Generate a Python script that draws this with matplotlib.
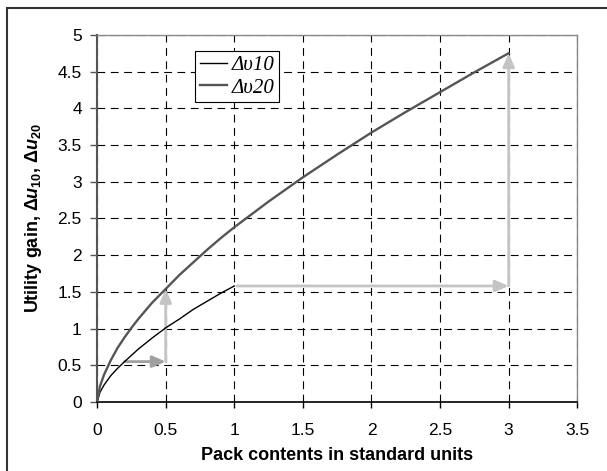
import matplotlib
matplotlib.use('Agg')
import matplotlib.pyplot as plt
from matplotlib.patches import Rectangle

# Values
x10 = [0, 0.02, 0.05, 0.1, 0.15, 0.2, 0.3, 0.4, 0.5, 0.6, 0.7, 0.8, 0.9, 1.0]
du10 = [0, 0.13, 0.23, 0.36, 0.46, 0.55, 0.72, 0.87, 1.01, 1.13, 1.26, 1.37, 1.48, 1.58]

x20 = [0, 0.02, 0.05, 0.1, 0.15, 0.2, 0.25, 0.3, 0.4, 0.5, 0.6, 0.7, 0.8, 0.9, 1.0,
       1.25, 1.5, 1.75, 2.0, 2.25, 2.5, 2.75, 3.0]
du20 = [0, 0.21, 0.37, 0.57, 0.74, 0.88, 1.01, 1.13, 1.35, 1.54, 1.73, 1.90, 2.07, 2.23, 2.38,
        2.73, 3.06, 3.37, 3.67, 3.95, 4.22, 4.49, 4.75]

labels = ['\u0394\u03c510', '\u0394\u03c520']
xticks = [0, 0.5, 1, 1.5, 2, 2.5, 3, 3.5]
yticks = [0, 0.5, 1, 1.5, 2, 2.5, 3, 3.5, 4, 4.5, 5]

plt.rcParams['font.family'] = ['Liberation Sans', 'DejaVu Sans']
plt.rcParams['mathtext.fontset'] = 'custom'
plt.rcParams['mathtext.rm'] = 'Liberation Sans:bold'
plt.rcParams['mathtext.bf'] = 'Liberation Sans:bold'
plt.rcParams['mathtext.it'] = 'Liberation Sans:italic:bold'

fig = plt.figure(figsize=(6.07, 4.71), dpi=100)
ax = fig.add_axes([0.160, 0.1465, 0.791, 0.7795])

# outer frame (only left and top edges show in the picture)
fig.patches.append(Rectangle((7 / 607, -0.1), 1.2, 1 - 8 / 471 + 0.1,
                             transform=fig.transFigure, fill=False,
                             edgecolor='#333333', linewidth=1.5))

ax.plot(x10, du10, color='black', linewidth=1.0, label=labels[0], zorder=4)
ax.plot(x20, du20, color='#555555', linewidth=1.7, label=labels[1], zorder=4)

# arrows: from the end points of the curves
def arrow(x0, y0, x1, y1, col):
    ax.annotate('', xy=(x1, y1), xytext=(x0, y0),
                arrowprops=dict(arrowstyle='-|>,head_length=0.8,head_width=0.35',
                                color=col, linewidth=2.0, shrinkA=0, shrinkB=0),
                zorder=3)

i02 = x10.index(0.2)
i05 = x20.index(0.5)
arrow(x10[i02], du10[i02], 0.5, du10[i02], '#a0a0a0')
arrow(0.5, du10[i02], 0.5, du20[i05], '#c4c4c4')
arrow(x10[-1] + 0.02, du10[-1], x20[-1], du10[-1], '#c4c4c4')
arrow(x20[-1], du10[-1], x20[-1], du20[-1], '#c4c4c4')

ax.set_xlim(0, 3.5)
ax.set_ylim(0, 5)
ax.set_xticks(xticks)
ax.set_yticks(yticks)
ax.set_xticklabels([f'{t:g}' for t in xticks])
ax.set_yticklabels([f'{t:g}' for t in yticks])
ax.tick_params(axis='x', direction='out', length=4, width=1, labelsize=12.5, pad=11,
               colors='black')
ax.tick_params(axis='y', direction='out', length=5, width=1, labelsize=12.5, pad=6,
               color='#555555', labelcolor='black')

ax.grid(True, color='black', linestyle=(0, (7, 5)), linewidth=0.8)
ax.set_axisbelow(True)

ax.spines['left'].set_color('#555555')
ax.spines['left'].set_linewidth(1.5)
ax.spines['bottom'].set_color('black')
ax.spines['bottom'].set_linewidth(1.2)
for s in ['top', 'right']:
    ax.spines[s].set_color('#888888')
    ax.spines[s].set_linewidth(1.0)

ax.set_xlabel('Pack contents in standard units', fontsize=13, fontweight='bold')
ax.xaxis.set_label_coords(0.5, -0.122)
ax.set_ylabel(r'Utility gain, $\Delta\mathit{u}_{10}$, $\Delta\mathit{u}_{20}$',
              fontsize=13, fontweight='bold')
ax.yaxis.set_label_coords(-0.11, 0.5)

leg = ax.legend(loc='upper left', bbox_to_anchor=(0.204, 0.957), frameon=True,
                fancybox=False, shadow=False, borderpad=0.22, handlelength=1.3,
                handletextpad=0.25, labelspacing=0.15, borderaxespad=0,
                prop={'family': 'Liberation Serif', 'style': 'italic', 'size': 15})
leg.get_frame().set_edgecolor('black')
leg.get_frame().set_linewidth(0.8)
leg.get_frame().set_alpha(1)

fig.savefig('out.png', dpi=100)
